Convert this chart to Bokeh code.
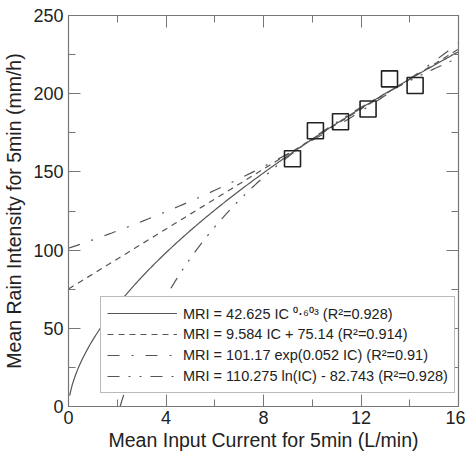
import numpy as np
from bokeh.plotting import figure
from bokeh.models import (Range1d, LinearAxis, SingleIntervalTicker, Legend, LegendItem)
from bokeh.embed import file_html
from bokeh.resources import INLINE

# Observed data
ic_obs = [9.19, 10.13, 11.16, 12.29, 13.17, 14.22]
mri_obs = [158.4, 176.3, 182.1, 190.2, 209.5, 205.2]

# Fit coefficients (from legend)
pow_a, pow_b = 42.625, 0.603
lin_a, lin_b = 9.584, 75.14
exp_a, exp_b = 101.17, 0.052
ln_a, ln_b = 110.275, -82.743

labels = [
    "MRI = 42.625 IC \u2070\u22c5\u2076\u2070\u00b3 (R\u00b2=0.928)",
    "MRI = 9.584 IC + 75.14 (R\u00b2=0.914)",
    "MRI = 101.17 exp(0.052 IC) (R\u00b2=0.91)",
    "MRI = 110.275 ln(IC) - 82.743 (R\u00b2=0.928)",
]

FONT = "Liberation Sans"
TXT = "#222222"
AX = "#777777"
CUR = "#555555"

p = figure(width=465, height=453, output_backend="svg", toolbar_location=None,
           x_range=Range1d(0, 16), y_range=Range1d(0, 250),
           x_axis_type=None, y_axis_type=None,
           min_border_left=10, min_border_right=7, min_border_top=15, min_border_bottom=10)
p.grid.visible = False
p.outline_line_color = AX
p.outline_line_width = 1.2

bottom = LinearAxis(ticker=SingleIntervalTicker(interval=4, num_minor_ticks=2),
                    axis_label="Mean Input Current for 5min (L/min)")
left = LinearAxis(ticker=SingleIntervalTicker(interval=50, num_minor_ticks=2),
                  axis_label="Mean Rain Intensity for 5min (mm/h)")
top = LinearAxis(ticker=SingleIntervalTicker(interval=4, num_minor_ticks=2))
right = LinearAxis(ticker=SingleIntervalTicker(interval=50, num_minor_ticks=2))
p.add_layout(bottom, "below")
p.add_layout(left, "left")
p.add_layout(top, "above")
p.add_layout(right, "right")

for ax in [bottom, left, top, right]:
    ax.axis_line_color = AX
    ax.major_tick_line_color = AX
    ax.minor_tick_line_color = AX
    ax.major_tick_in = 12
    ax.major_tick_out = 0
    ax.minor_tick_in = 7
    ax.minor_tick_out = 0
    ax.major_label_text_font = FONT
    ax.major_label_text_font_size = "18px"
    ax.major_label_text_color = TXT
    ax.axis_label_text_font = FONT
    ax.axis_label_text_font_size = "19.5px"
    ax.axis_label_text_font_style = "normal"
    ax.axis_label_text_color = TXT
for ax in [top, right]:
    ax.major_label_text_font_size = "0px"
    ax.major_label_standoff = 0
bottom.major_label_standoff = 4
left.major_label_standoff = 5
bottom.axis_label_standoff = 2
left.axis_label_standoff = 5

# Curves
xp = np.linspace(0.05, 16, 300)
xl = np.linspace(0, 16, 100)
xn = np.linspace(np.exp(-ln_b / ln_a), 16, 300)
r1 = p.line(xp, pow_a * xp ** pow_b, line_color=CUR, line_width=1.2)
r2 = p.line(xl, lin_a * xl + lin_b, line_color=CUR, line_width=1.2, line_dash="6 5")
r3 = p.line(xl, exp_a * np.exp(exp_b * xl), line_color=CUR, line_width=1.2, line_dash="12 12 2 12")
r4 = p.line(xn, ln_a * np.log(xn) + ln_b, line_color=CUR, line_width=1.2, line_dash="12 9 2 9 2 9")

p.scatter(ic_obs, mri_obs, marker="square", size=16, fill_color=None,
          line_color="#222222", line_width=1.6)

legend = Legend(items=[LegendItem(label=l, renderers=[r]) for l, r in zip(labels, [r1, r2, r3, r4])],
                location=(32, 13), glyph_width=70, glyph_height=20, label_height=20,
                spacing=1, padding=6, margin=0, label_standoff=6,
                label_text_font=FONT, label_text_font_size="14.5px", label_text_color=TXT,
                border_line_color=AX, border_line_width=1.2, background_fill_alpha=1)
p.add_layout(legend, "center")

open("out.html", "w").write(file_html(p, INLINE))
